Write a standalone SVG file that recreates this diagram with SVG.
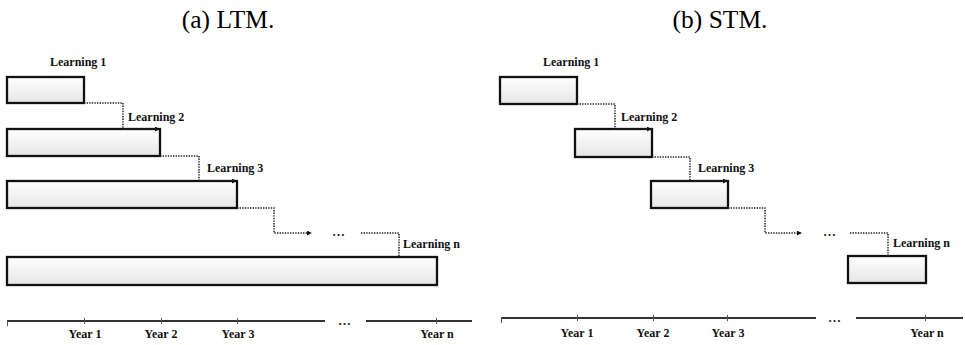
<svg xmlns="http://www.w3.org/2000/svg" width="965" height="345" viewBox="0 0 965 345">
<style>
.title{font-family:"Liberation Serif","Times New Roman",serif;font-size:25.5px;fill:#000;text-anchor:middle}
.lbl{font-family:"Liberation Serif","Times New Roman",serif;font-size:12px;font-weight:bold;fill:#111}
.yr{font-family:"Liberation Serif","Times New Roman",serif;font-size:12px;font-weight:bold;fill:#111;text-anchor:middle}
.dots{font-family:"Liberation Serif","Times New Roman",serif;font-size:13px;font-weight:bold;fill:#222}
.box{fill:url(#g);stroke:#111;stroke-width:2.3}
.con{fill:none;stroke:#222;stroke-width:1.5;stroke-dasharray:1.4 1.2}
.axis{fill:none;stroke:#333;stroke-width:2}
.tick{fill:none;stroke:#555;stroke-width:1}
</style>
<defs>
<linearGradient id="g" x1="0" y1="0" x2="0" y2="1">
<stop offset="0" stop-color="#ffffff"/>
<stop offset="1" stop-color="#e6e6e6"/>
</linearGradient>
<marker id="ah" viewBox="0 0 6 6" refX="5" refY="3" markerWidth="5" markerHeight="5" orient="auto" markerUnits="userSpaceOnUse">
<path d="M0,0 L6,3 L0,6 Z" fill="#111"/>
</marker>
</defs>

<text class="title" x="228" y="28">(a) LTM.</text>
<text class="title" x="720" y="28">(b) STM.</text>

<!-- LTM nodes -->
<g id="ltm-learning1"><rect class="box" x="7" y="77" width="77" height="26"/><text class="lbl" x="50" y="66">Learning 1</text></g>
<g id="ltm-learning2"><rect class="box" x="7" y="129" width="153" height="27"/><text class="lbl" x="128" y="121">Learning 2</text></g>
<g id="ltm-learning3"><rect class="box" x="7" y="181" width="230" height="27"/><text class="lbl" x="207" y="172">Learning 3</text></g>
<g id="ltm-learningn"><rect class="box" x="7" y="257" width="430" height="28"/><text class="lbl" x="403" y="248">Learning n</text></g>

<!-- STM nodes -->
<g id="stm-learning1"><rect class="box" x="500" y="77" width="77" height="27"/><text class="lbl" x="543" y="66">Learning 1</text></g>
<g id="stm-learning2"><rect class="box" x="575" y="129" width="77" height="28"/><text class="lbl" x="621" y="121">Learning 2</text></g>
<g id="stm-learning3"><rect class="box" x="651" y="181" width="77" height="27"/><text class="lbl" x="698" y="172">Learning 3</text></g>
<g id="stm-learningn"><rect class="box" x="848" y="256" width="78" height="27"/><text class="lbl" x="893" y="247">Learning n</text></g>

<!-- connectors -->
<g id="connectors">
<path class="con" d="M84,103 H123 V129 H159" marker-end="url(#ah)"/>
<path class="con" d="M160,156 H199 V181 H236" marker-end="url(#ah)"/>
<path class="con" d="M237,208 H274 V233 H311" marker-end="url(#ah)"/>
<path class="con" d="M361,233 H399 V257"/>
<path class="con" d="M577,104 H615 V129 H651" marker-end="url(#ah)"/>
<path class="con" d="M652,157 H690 V181 H727" marker-end="url(#ah)"/>
<path class="con" d="M728,208 H765 V233 H801" marker-end="url(#ah)"/>
<path class="con" d="M850,233 H888 V256"/>
</g>
<text class="dots" x="332" y="236">…</text>
<text class="dots" x="823" y="236">…</text>

<!-- LTM axis -->
<g id="ltm-axis">
<line class="axis" x1="7" y1="321" x2="325" y2="321"/>
<line class="axis" x1="366" y1="321" x2="472" y2="321"/>
<line class="tick" x1="7.5" y1="321" x2="7.5" y2="326"/>
<line class="tick" x1="84.5" y1="318" x2="84.5" y2="324"/>
<line class="tick" x1="161.5" y1="318" x2="161.5" y2="324"/>
<line class="tick" x1="237.5" y1="318" x2="237.5" y2="324"/>
<line class="tick" x1="436.5" y1="318" x2="436.5" y2="324"/>
<text class="dots" x="338" y="325">…</text>
<text class="yr" x="85" y="338">Year 1</text>
<text class="yr" x="161" y="338">Year 2</text>
<text class="yr" x="238" y="338">Year 3</text>
<text class="yr" x="437" y="338">Year n</text>
</g>

<!-- STM axis -->
<g id="stm-axis">
<line class="axis" x1="501" y1="318" x2="816" y2="318"/>
<line class="axis" x1="856" y1="318" x2="963" y2="318"/>
<line class="tick" x1="501.5" y1="318" x2="501.5" y2="323"/>
<line class="tick" x1="577.5" y1="315" x2="577.5" y2="321"/>
<line class="tick" x1="653.5" y1="315" x2="653.5" y2="321"/>
<line class="tick" x1="727.5" y1="315" x2="727.5" y2="321"/>
<line class="tick" x1="925.5" y1="315" x2="925.5" y2="321"/>
<text class="dots" x="828" y="322">…</text>
<text class="yr" x="577" y="337">Year 1</text>
<text class="yr" x="653" y="337">Year 2</text>
<text class="yr" x="728" y="337">Year 3</text>
<text class="yr" x="927" y="337">Year n</text>
</g>
</svg>
